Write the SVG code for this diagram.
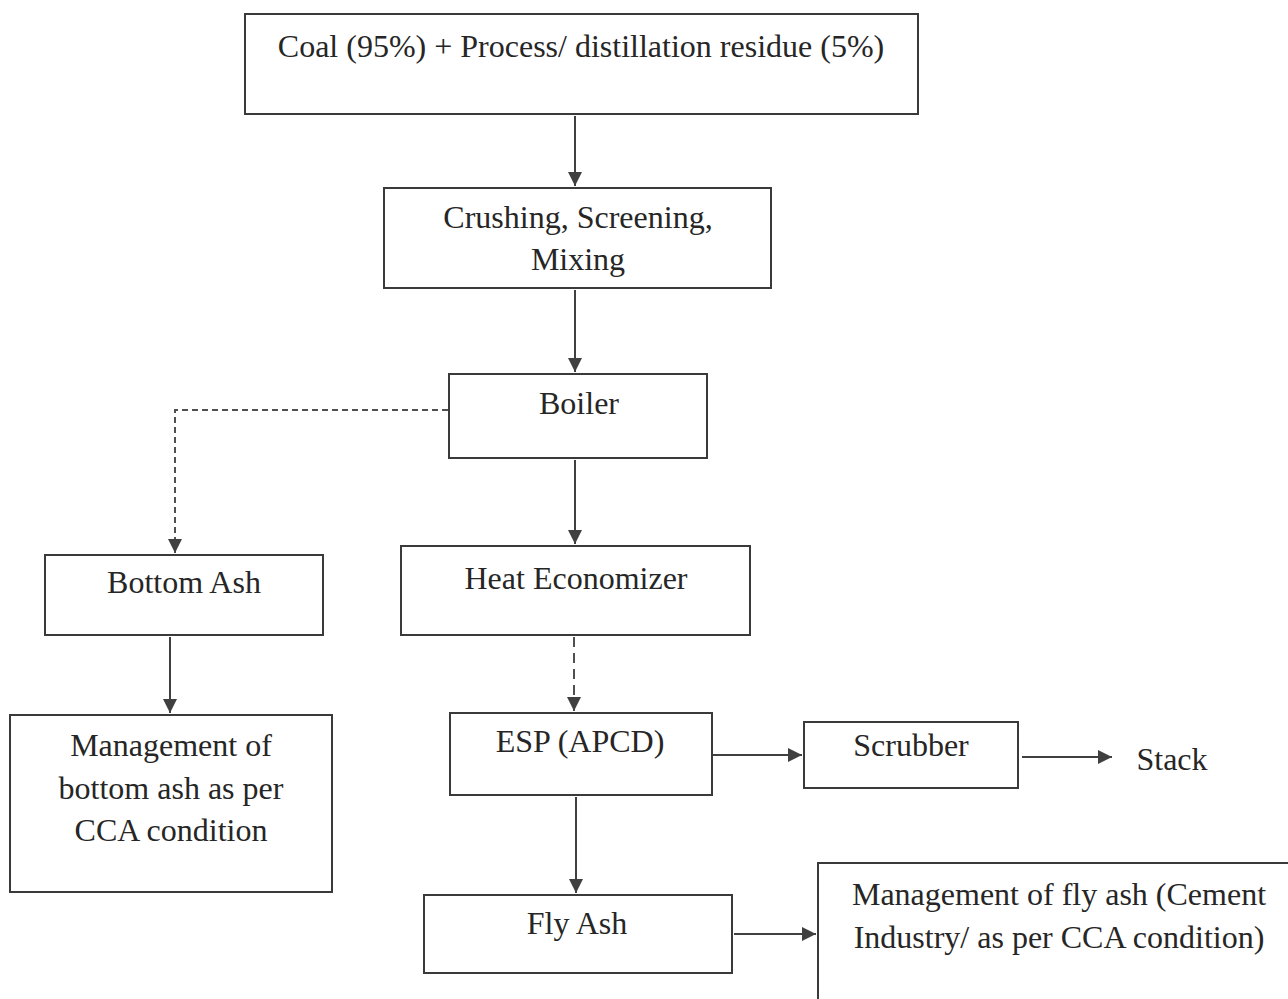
<svg xmlns="http://www.w3.org/2000/svg" width="1288" height="999" viewBox="0 0 1288 999">
<style>
.box{fill:#fff;stroke:#3a3a3a;stroke-width:2}
.t{font-family:"Liberation Serif","Times New Roman",serif;font-size:32px;fill:#262626;text-anchor:middle}
.c{stroke:#404040;stroke-width:2;fill:none}
.d{stroke:#505050;stroke-width:2;fill:none;stroke-dasharray:6,4}
.dd{stroke:#505050;stroke-width:2;fill:none;stroke-dasharray:10,6}
</style>
<defs>
<marker id="ah" viewBox="0 0 14 14" refX="14" refY="7" markerWidth="14" markerHeight="14" markerUnits="userSpaceOnUse" orient="auto">
<path d="M0,0 L14,7 L0,14 z" fill="#404040"/>
</marker>
</defs>
<rect width="1288" height="999" fill="#fff"/>
<g id="connectors">
<line class="c" x1="575" y1="116" x2="575" y2="186" marker-end="url(#ah)"/>
<line class="c" x1="575" y1="290" x2="575" y2="372" marker-end="url(#ah)"/>
<line class="c" x1="575" y1="460" x2="575" y2="544" marker-end="url(#ah)"/>
<polyline class="d" points="448,410 175,410 175,553" marker-end="url(#ah)"/>
<line class="c" x1="170" y1="637" x2="170" y2="713" marker-end="url(#ah)"/>
<line class="dd" x1="574" y1="637" x2="574" y2="711" marker-end="url(#ah)"/>
<line class="c" x1="712" y1="755" x2="802" y2="755" marker-end="url(#ah)"/>
<line class="c" x1="1022" y1="757" x2="1112" y2="757" marker-end="url(#ah)"/>
<line class="c" x1="576" y1="797" x2="576" y2="893" marker-end="url(#ah)"/>
<line class="c" x1="734" y1="934" x2="816" y2="934" marker-end="url(#ah)"/>
</g>
<g id="n_coal">
<rect class="box" x="245" y="14" width="673" height="100"/>
<text class="t" x="581" y="57">Coal (95%) + Process/ distillation residue (5%)</text>
</g>
<g id="n_crushing">
<rect class="box" x="384" y="188" width="387" height="100"/>
<text class="t" x="578" y="228">Crushing, Screening,</text>
<text class="t" x="578" y="270">Mixing</text>
</g>
<g id="n_boiler">
<rect class="box" x="449" y="374" width="258" height="84"/>
<text class="t" x="579" y="414">Boiler</text>
</g>
<g id="n_bottomash">
<rect class="box" x="45" y="555" width="278" height="80"/>
<text class="t" x="184" y="593">Bottom Ash</text>
</g>
<g id="n_mgmt_bottom">
<rect class="box" x="10" y="715" width="322" height="177"/>
<text class="t" x="171" y="756">Management of</text>
<text class="t" x="171" y="799">bottom ash as per</text>
<text class="t" x="171" y="841">CCA condition</text>
</g>
<g id="n_heat">
<rect class="box" x="401" y="546" width="349" height="89"/>
<text class="t" x="576" y="589">Heat Economizer</text>
</g>
<g id="n_esp">
<rect class="box" x="450" y="713" width="262" height="82"/>
<text class="t" x="580" y="752">ESP (APCD)</text>
</g>
<g id="n_scrubber">
<rect class="box" x="804" y="722" width="214" height="66"/>
<text class="t" x="911" y="756">Scrubber</text>
</g>
<g id="n_stack">
<text class="t" x="1172" y="770">Stack</text>
</g>
<g id="n_flyash">
<rect class="box" x="424" y="895" width="308" height="78"/>
<text class="t" x="577" y="934">Fly Ash</text>
</g>
<g id="n_mgmt_fly">
<rect class="box" x="818" y="863" width="480" height="160"/>
<text class="t" x="1059" y="905">Management of fly ash (Cement</text>
<text class="t" x="1059" y="948">Industry/ as per CCA condition)</text>
</g>
</svg>
